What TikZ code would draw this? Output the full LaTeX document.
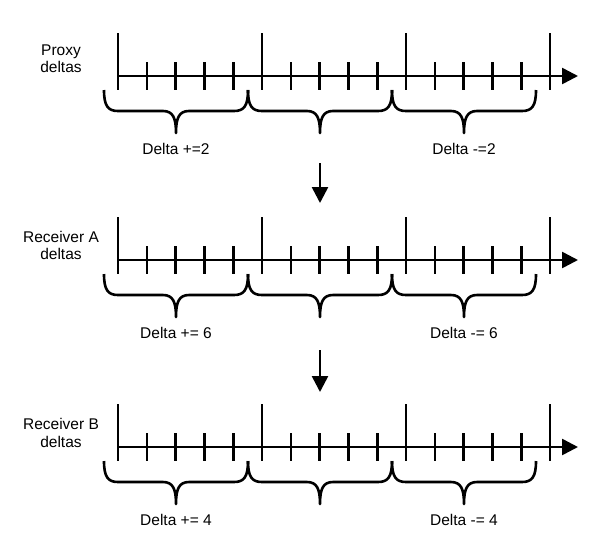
\documentclass[tikz,border=0pt]{standalone}
\usepackage{fontspec}
\setmainfont{Liberation Sans}
\usetikzlibrary{arrows.meta}
\begin{document}
\begin{tikzpicture}[x=1pt,y=-1pt,line width=2.6pt,
		font=\fontsize{15.5}{17.5}\selectfont,
		>={Triangle[length=16pt,width=16pt]}]
		\useasboundingbox (0,0) rectangle (605,542);

		\foreach \r/\y/\ly/\name/\plus/\minus in
			{p/76/-17.5/Proxy/+=2/-=2, a/260/-14.5/Receiver A/+= 6/-= 6, b/447/-14/Receiver B/+= 4/-= 4} {
			\begin{scope}[shift={(0,\y)}]
				\draw (61,\ly) node[align=center] (lbl\r) {\name\\deltas};
				\draw[->] (118,0) -- (578,0);
				\foreach \x in {118,262,406,550}
					\draw (\x,-43) -- (\x,14);
				\foreach \k in {0,1,2}
					\foreach \m in {1,...,4}
						\draw ({118+144*\k+28.8*\m},-14) -- ++(0,28);
				\foreach \c in {176,320,464}
					\draw[line join=round] ({\c-72},14) .. controls ({\c-72},30) and ({\c-68},35) .. ({\c-58},35)
						-- ({\c-13},35) .. controls ({\c-3},35) and (\c,42) .. (\c,57)
						.. controls (\c,42) and ({\c+3},35) .. ({\c+13},35)
						-- ({\c+58},35) .. controls ({\c+68},35) and ({\c+72},30) .. ({\c+72},14);
				\draw (176,73) node (dl\r) {Delta \plus};
				\draw (464,73) node (dr\r) {Delta \minus};
			\end{scope}
		}

		\coordinate (s1) at (320,163);
		\coordinate (e1) at (320,203);
		\coordinate (s2) at (320,350);
		\coordinate (e2) at (320,392);
		\draw[->] (s1) -- (e1);
		\draw[->] (s2) -- (e2);
	\end{tikzpicture}
\end{document}
